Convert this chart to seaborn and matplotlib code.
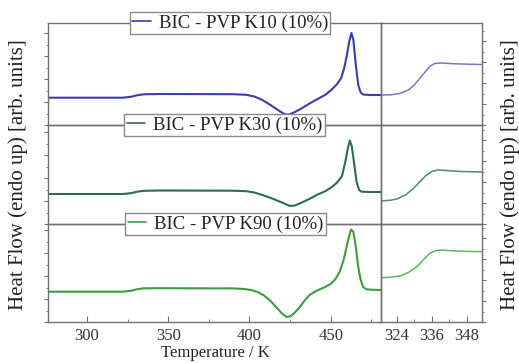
import numpy as np
import pandas as pd
import matplotlib
matplotlib.use("Agg")
import matplotlib.pyplot as plt
from matplotlib.ticker import MultipleLocator, NullFormatter
import seaborn as sns

# ---------------- data (arbitrary units) ----------------
labels = ["BIC - PVP K10 (10%)", "BIC - PVP K30 (10%)", "BIC - PVP K90 (10%)"]

k10_T = [276, 322, 327, 331, 335, 345, 390, 398, 403, 408, 413, 418, 421, 423, 425, 428, 432,
         437, 442, 447, 451, 454, 456.5, 458.5, 460, 461.5, 462.8, 464, 465.5, 467, 468.5, 470, 474, 481]
k10_H = [27.3, 27.3, 28.2, 29.8, 30.7, 31.0, 30.8, 30.2, 28.5, 25.0, 20.0, 14.5, 11.5, 10.3, 10.8, 13.0, 16.5,
         21.5, 26.0, 30.5, 36, 41, 47, 58, 70, 84, 92, 85, 60, 40, 32.5, 30.5, 30.0, 30.0]

k30_T = [276, 322, 327, 331, 335, 345, 390, 398, 403, 408, 414, 420, 425, 428, 433, 438, 442, 447,
         451, 454, 457, 459, 460.5, 461.8, 463, 464.5, 466, 467.5, 469, 474, 481]
k30_H = [30.0, 30.0, 30.8, 32.3, 33.2, 33.5, 33.3, 32.8, 31.5, 29.0, 25.5, 21.5, 18.0, 18.5, 22.0, 26.0, 29.5, 33.0,
         37.3, 41.5, 48, 62, 75, 83.5, 78, 60, 42, 34, 32.3, 32.0, 32.0]

k90_T = [276, 322, 327, 331, 335, 345, 390, 397, 401, 405, 409, 413, 417, 420, 423, 425.5, 428, 431, 434,
         437, 441, 446, 450, 453, 455.5, 458, 460.5, 462.5, 464, 465.5, 467, 468.5, 470, 472, 476, 481]
k90_H = [30.3, 30.3, 31.2, 32.8, 33.7, 33.8, 33.6, 33.0, 32.0, 30.0, 26.5, 21.0, 14.0, 8.5, 5.0, 6.0, 9.5, 15.0, 21.5,
         27.0, 31.0, 34.5, 38.0, 43.0, 50.0, 62.0, 80.0, 92.5, 90, 75, 55, 42, 35, 32.7, 32.2, 32.0]

# zoomed glass-transition region
z_T = [318.6, 322, 325, 328, 330, 332, 334, 335.5, 337, 339, 342, 346, 353.1]
k10_zH = [30.0, 30.2, 31.5, 35.0, 40.0, 47.0, 54.0, 59.0, 61.5, 62.0, 61.5, 61.0, 60.5]
z30_T = [318.6, 322, 324, 327, 329.5, 332, 334, 336, 338, 341, 346, 353.1]
k30_zH = [23.0, 23.8, 25.0, 29.0, 35.0, 42.5, 48.5, 52.5, 54.0, 53.5, 52.5, 52.0]
z90_T = [318.6, 322, 325, 328, 331, 333.5, 335.5, 337.5, 339.5, 343, 348, 353.1]
k90_zH = [44.3, 44.8, 46.0, 49.5, 55.5, 63.5, 69.0, 71.5, 72.0, 71.2, 70.6, 70.3]

main_ticks = [300, 350, 400, 450]
zoom_ticks = [324, 336, 348]

colors = ["#3b3bb5", "#2e6b55", "#3b9e3d"]
zcolors = ["#7676cf", "#4e8a74", "#5cb65c"]

# ---------------- figure ----------------
sns.set_theme(style="white")
plt.rcParams["font.family"] = ["Liberation Serif", "DejaVu Serif"]
plt.rcParams["axes.edgecolor"] = "#707070"
plt.rcParams["axes.linewidth"] = 1.0

W, H = 519, 363
fig = plt.figure(figsize=(W / 100, H / 100), dpi=100)

def rect(x0, x1, y0, y1):
    return [x0 / W, 1 - y1 / H, (x1 - x0) / W, (y1 - y0) / H]

rows = [(23, 125, 102), (125, 224, 99), (224, 322, 98)]
left_x = (48, 381)
right_x = (381, 481.7)

main = [(k10_T, k10_H), (k30_T, k30_H), (k90_T, k90_H)]
zoom = [(z_T, k10_zH), (z30_T, k30_zH), (z90_T, k90_zH)]
leg_anchor = [0.547, 0.53, 0.533]

for i, (y0, y1, hgt) in enumerate(rows):
    axl = fig.add_axes(rect(*left_x, y0, y1))
    axr = fig.add_axes(rect(*right_x, y0, y1))
    for a in (axl, axr):
        a.set_facecolor("none")
    T, Hf = main[i]
    df = pd.DataFrame({"T": T, "H": Hf})
    sns.lineplot(data=df, x="T", y="H", ax=axl, color=colors[i], lw=1.5, label=labels[i])
    zT, zH = zoom[i]
    dz = pd.DataFrame({"T": zT, "H": zH})
    sns.lineplot(data=dz, x="T", y="H", ax=axr, color=zcolors[i], lw=1.1, legend=False)

    axl.set_xlim(276, 481)
    axr.set_xlim(318.6, 353.1)
    axl.set_ylim(0, hgt)
    axr.set_ylim(0, hgt)
    for a in (axl, axr):
        a.set_xlabel("")
        a.set_ylabel("")
        for s in a.spines.values():
            s.set_color("#707070")
            s.set_linewidth(1.0)

    # y ticks (no labels)
    axl.yaxis.set_major_locator(MultipleLocator(23))
    axl.yaxis.set_minor_locator(MultipleLocator(11.5))
    axl.yaxis.set_major_formatter(NullFormatter())
    axl.tick_params(axis="y", which="major", direction="out", length=3, width=0.8, color="#707070", left=True)
    axl.tick_params(axis="y", which="minor", direction="out", length=1.5, width=0.6, color="#707070", left=True)
    axr.yaxis.tick_right()
    axr.yaxis.set_major_locator(MultipleLocator(21))
    axr.yaxis.set_minor_locator(MultipleLocator(10.5))
    axr.yaxis.set_major_formatter(NullFormatter())
    axr.tick_params(axis="y", which="major", direction="out", length=3, width=0.8, color="#707070",
                    right=True, left=False)
    axr.tick_params(axis="y", which="minor", direction="out", length=1.5, width=0.6, color="#707070",
                    right=True, left=False)

    if i < 2:
        axl.set_xticks([])
        axr.set_xticks([])
    else:
        axl.set_xticks(main_ticks)
        axl.xaxis.set_minor_locator(MultipleLocator(25))
        axr.set_xticks(zoom_ticks)
        axr.xaxis.set_minor_locator(MultipleLocator(6))
        for a in (axl, axr):
            a.tick_params(axis="x", which="major", direction="in", length=4, width=0.8,
                          color="#707070", labelsize=12, labelcolor="#333333", pad=4, bottom=True)
            a.tick_params(axis="x", which="minor", direction="in", length=2.5, width=0.6,
                          color="#707070", bottom=True)

    leg = axl.legend(loc="center", bbox_to_anchor=(leg_anchor[i], 1.0), frameon=True,
                     fontsize=13.5, handlelength=1.0, handletextpad=0.4, borderpad=0.12,
                     borderaxespad=0, fancybox=False, framealpha=1)
    leg.get_frame().set_edgecolor("#8a8a8a")
    leg.get_frame().set_linewidth(1.0)
    for t in leg.get_texts():
        t.set_color("#222222")
    for ln in leg.get_lines():
        ln.set_linewidth(1.2)
    leg.set_zorder(10)

fig.text(215 / W, 1 - 353 / H, "Temperature / K", ha="center", va="center", fontsize=12, color="#222222")
fig.text(18 / W, 1 - 175 / H, "Heat Flow (endo up) [arb. units]", rotation=90, ha="center",
         va="center", fontsize=15, color="#222222")
fig.text(510 / W, 1 - 175 / H, "Heat Flow (endo up) [arb. units]", rotation=90, ha="center",
         va="center", fontsize=15, color="#222222")

fig.savefig("out.png", dpi=100)
